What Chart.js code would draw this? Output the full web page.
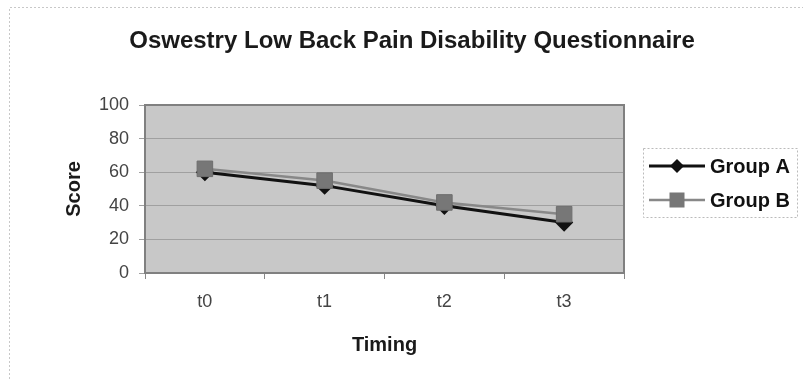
<!DOCTYPE html>
<html>
<head>
<meta charset="utf-8">
<script src="https://cdn.jsdelivr.net/npm/chart.js@4/dist/chart.umd.min.js"></script>
<style>
html,body{margin:0;padding:0;background:#fff;}
#wrap{position:relative;width:803px;height:379px;}
</style>
</head>
<body>
<div id="wrap"><canvas id="c" width="803" height="379"></canvas></div>
<script>
const titleText = "Oswestry Low Back Pain Disability Questionnaire";
const categories = ["t0", "t1", "t2", "t3"];
const groupA = [60, 52, 40, 30];
const groupB = [62, 55, 42, 35];
const yTicks = [0, 20, 40, 60, 80, 100];
const seriesNames = ["Group A", "Group B"];

const FONT = "'Liberation Sans', Arial, sans-serif";

const decor = {
  id: 'decor',
  beforeDraw(chart) {
    const ctx = chart.ctx, a = chart.chartArea;
    ctx.save();
    ctx.fillStyle = '#fff';
    ctx.fillRect(0, 0, chart.width, chart.height);
    ctx.strokeStyle = '#c8c8c8';
    ctx.lineWidth = 1;
    ctx.setLineDash([2, 2]);
    ctx.beginPath();
    ctx.moveTo(9.5, 379); ctx.lineTo(9.5, 7.5); ctx.lineTo(803, 7.5);
    ctx.stroke();
    ctx.setLineDash([]);
    ctx.fillStyle = '#c8c8c8';
    ctx.fillRect(a.left, a.top, a.right - a.left, a.bottom - a.top);
    ctx.fillStyle = '#1a1a1a';
    ctx.font = 'bold 24px ' + FONT;
    ctx.textAlign = 'center';
    ctx.textBaseline = 'middle';
    ctx.fillText(titleText, 412, 41);
    ctx.restore();
  },
  afterDatasetsDraw(chart) {
    const ctx = chart.ctx;
    ctx.save();
    const lx = 643, ly = 148, lw = 154, lh = 69;
    ctx.strokeStyle = '#bbbbbb';
    ctx.lineWidth = 1;
    ctx.setLineDash([2, 2]);
    ctx.strokeRect(lx + 0.5, ly + 0.5, lw, lh);
    ctx.setLineDash([]);
    const rows = [166, 200];
    chart.data.datasets.forEach((ds, i) => {
      const y = rows[i];
      ctx.strokeStyle = ds.borderColor;
      ctx.lineWidth = ds.borderWidth;
      ctx.beginPath(); ctx.moveTo(649, y); ctx.lineTo(705, y); ctx.stroke();
      const cx = 677;
      ctx.fillStyle = ds.pointBackgroundColor;
      if (ds.pointStyle === 'rectRot') {
        ctx.beginPath();
        ctx.moveTo(cx, y - 7); ctx.lineTo(cx + 7, y); ctx.lineTo(cx, y + 7); ctx.lineTo(cx - 7, y);
        ctx.closePath(); ctx.fill();
      } else {
        ctx.fillRect(cx - 7.5, y - 7.5, 15, 15);
      }
      ctx.fillStyle = '#111';
      ctx.font = 'bold 20px ' + FONT;
      ctx.textBaseline = 'middle';
      ctx.textAlign = 'left';
      ctx.fillText(ds.label, 710, y + 1);
    });
    ctx.restore();
  },
  afterDraw(chart) {
    const ctx = chart.ctx, a = chart.chartArea;
    ctx.save();
    ctx.strokeStyle = '#808080';
    ctx.lineWidth = 2;
    ctx.strokeRect(a.left, a.top, a.right - a.left, a.bottom - a.top);
    ctx.restore();
  }
};

new Chart(document.getElementById('c'), {
  type: 'line',
  data: {
    labels: categories,
    datasets: [
      {
        label: seriesNames[0], data: groupA, order: 1,
        borderColor: '#111111', backgroundColor: '#111111',
        pointBackgroundColor: '#111111', pointBorderColor: '#111111',
        pointStyle: 'rectRot', pointRadius: 7, borderWidth: 3, tension: 0
      },
      {
        label: seriesNames[1], data: groupB, order: 0,
        borderColor: '#888888', backgroundColor: '#777777',
        pointBackgroundColor: '#777777', pointBorderColor: '#6e6e6e',
        pointStyle: 'rect', pointRadius: 11, pointBorderWidth: 1, borderWidth: 2.5, tension: 0
      }
    ]
  },
  options: {
    responsive: false,
    animation: false,
    layout: { padding: { left: 62, right: 179, top: 105, bottom: 22 } },
    plugins: {
      legend: { display: false },
      tooltip: { enabled: false },
      title: { display: false }
    },
    scales: {
      x: {
        offset: true,
        grid: { offset: true, drawOnChartArea: false, drawTicks: true, tickLength: 6, color: '#888', lineWidth: 1 },
        border: { display: false },
        ticks: { color: '#444', font: { family: FONT, size: 18 }, padding: 12 },
        title: { display: true, text: 'Timing', color: '#1a1a1a', font: { family: FONT, size: 20, weight: 'bold' }, padding: { top: 4, bottom: 0 } },
        afterFit(s) { s.height = 379 - 273 - 22; }
      },
      y: {
        min: 0, max: 100,
        afterBuildTicks(s) { s.ticks = yTicks.map(v => ({ value: v })); },
        grid: { color: '#a0a0a0', lineWidth: 1, drawTicks: true, tickLength: 6 },
        border: { display: false },
        ticks: { color: '#444', font: { family: FONT, size: 18 }, padding: 10 },
        title: { display: true, text: 'Score', color: '#1a1a1a', font: { family: FONT, size: 20, weight: 'bold' }, padding: { top: 0, bottom: 0 } },
        afterFit(s) { s.width = 145 - 62; }
      }
    }
  },
  plugins: [decor]
});
</script>
</body>
</html>
